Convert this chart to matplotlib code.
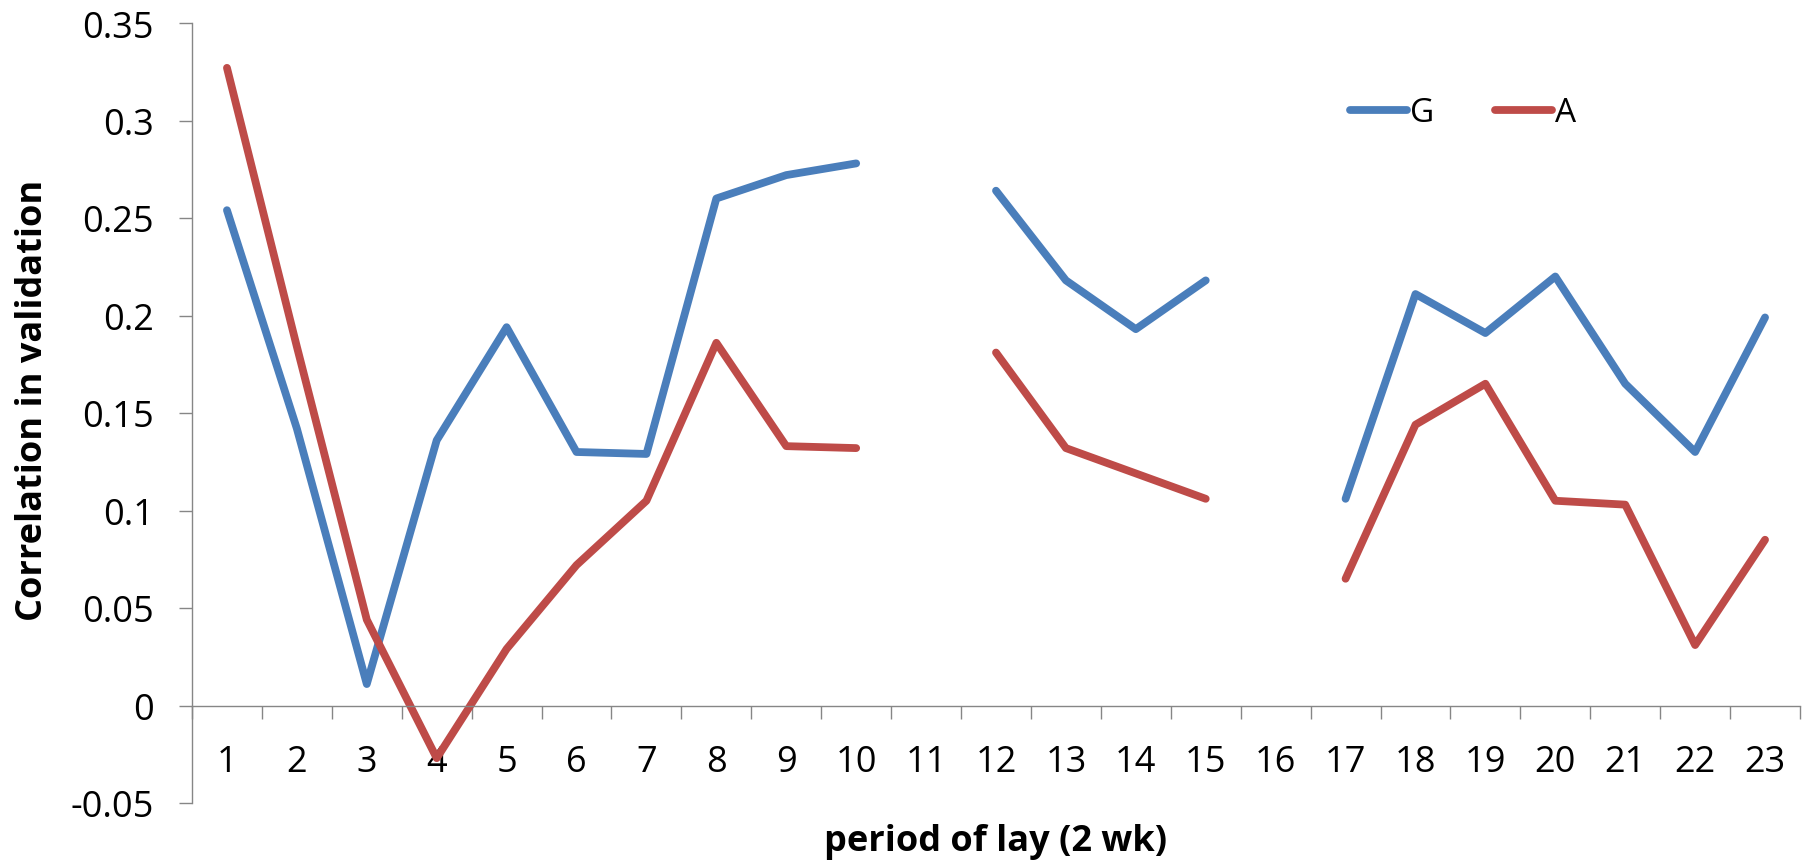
import numpy as np
import matplotlib
matplotlib.use("Agg")
from matplotlib import pyplot as plt
from matplotlib.ticker import FixedLocator, NullFormatter

# periods of lay (2 wk); 11 and 16 have no values
periods = list(range(1, 24))
g_vals = [0.254, 0.142, 0.011, 0.136, 0.194, 0.130, 0.129, 0.260, 0.272, 0.278, np.nan,
          0.264, 0.218, 0.193, 0.218, np.nan,
          0.106, 0.211, 0.191, 0.220, 0.165, 0.130, 0.199]
a_vals = [0.327, 0.184, 0.044, -0.027, 0.029, 0.072, 0.105, 0.186, 0.133, 0.132, np.nan,
          0.181, 0.132, 0.119, 0.106, np.nan,
          0.065, 0.144, 0.165, 0.105, 0.103, 0.031, 0.085]
y_ticks = [-0.05, 0, 0.05, 0.1, 0.15, 0.2, 0.25, 0.3, 0.35]
y_labels = ["-0.05", "0", "0.05", "0.1", "0.15", "0.2", "0.25", "0.3", "0.35"]

plt.rcParams['font.family'] = ['Open Sans', 'DejaVu Sans']

fig = plt.figure(figsize=(18.02, 8.62), dpi=100)
ax = fig.add_axes([192/1802, 1 - 804/862, (1800 - 192)/1802, (804 - 24)/862])

lw = 5.6
ax.plot(periods, g_vals, color="#4A7EBB", lw=lw, solid_capstyle="round",
        solid_joinstyle="round", label="G")
ax.plot(periods, a_vals, color="#BE4B48", lw=lw, solid_capstyle="round",
        solid_joinstyle="round", label="A")

ax.set_xlim(0.5, len(periods) + 0.5)
ax.set_ylim(-0.05, 0.35)

axis_grey = "#868686"
for s in ["top", "right"]:
    ax.spines[s].set_visible(False)
ax.spines["bottom"].set_position(("data", 0))
for s in ["bottom", "left"]:
    ax.spines[s].set_color(axis_grey)
    ax.spines[s].set_linewidth(1.0)

# x: ticks between categories, labels at category centres
ax.xaxis.set_major_locator(FixedLocator(np.arange(0.5, len(periods) + 1, 1)))
ax.xaxis.set_major_formatter(NullFormatter())
ax.xaxis.set_minor_locator(FixedLocator(periods))
ax.set_xticklabels([str(p) for p in periods], minor=True)
ax.tick_params(axis="x", which="major", direction="out", length=9.5, width=1.0, color=axis_grey)
ax.tick_params(axis="x", which="minor", length=0, pad=28, labelsize=26)

ax.set_yticks(y_ticks)
ax.set_yticklabels(y_labels)
ax.tick_params(axis="y", direction="out", length=9.5, width=1.0, color=axis_grey, pad=18, labelsize=26)

fig.text(996/1802, 1 - 842/862, "period of lay (2 wk)", ha="center", va="center",
         fontsize=26, fontweight="bold")
fig.text(33/1802, 1 - 400/862, "Correlation in validation", ha="center", va="center",
         rotation=90, fontsize=26, fontweight="bold")

ax.legend(loc="center left", bbox_to_anchor=(1350/1802, 1 - 114/862),
          bbox_transform=fig.transFigure, ncol=2, frameon=False, fontsize=24,
          handlelength=1.71, handletextpad=0.1, columnspacing=1.8,
          borderpad=0, borderaxespad=0)

fig.savefig("out.png", dpi=100)
